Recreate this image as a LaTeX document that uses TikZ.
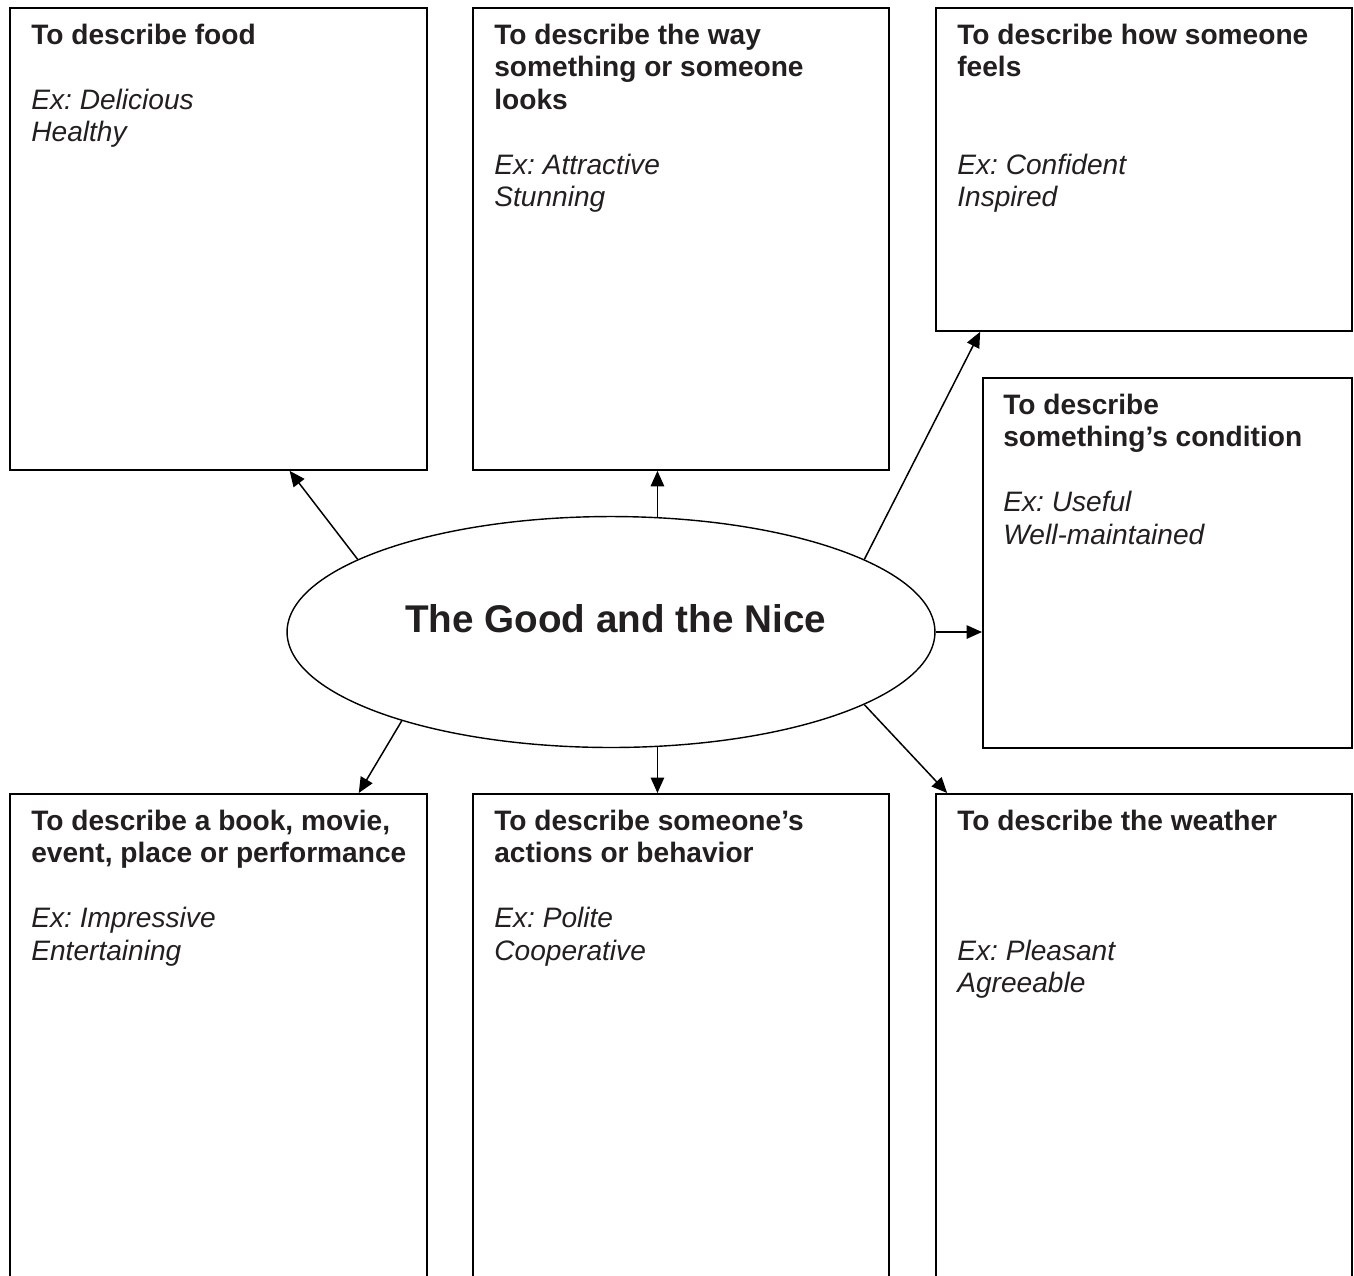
\documentclass[tikz,border=0pt]{standalone}
\usepackage{fontspec}
\setmainfont{Liberation Sans}
\usepackage{xcolor}
\usetikzlibrary{shapes.geometric,arrows.meta,calc}
\definecolor{inkgray}{RGB}{35,31,32}
\frenchspacing

\begin{document}
\begin{tikzpicture}[
    x=0.02cm, y=-0.02cm,
    >={Triangle[length=3.1mm,width=2.7mm]},
    box/.style={
        draw=black,
        line width=1.1pt,
        anchor=north west,
        inner sep=0pt
    },
    txt/.style={
        anchor=north west,
        inner sep=0pt,
        align=left,
        text=inkgray,
        font=\fontsize{16}{18.5}\selectfont
    },
    hub/.style={
        draw=black,
        ellipse,
        line width=0.8pt,
        minimum width=12.96cm,
        minimum height=4.62cm,
        inner sep=0pt
    },
    title/.style={
        anchor=base,
        inner sep=0pt,
        text=inkgray,
        font=\fontsize{22}{26}\selectfont\bfseries
    },
    arr/.style={->, line width=0.85pt}
]
\clip (0,0) rectangle (1354,1275);

% top row
\node[box, minimum width=8.34cm, minimum height=9.24cm] (food) at (9,7) {};
\node[txt] (foodtxt) at (31,23.5)
{\textbf{To describe food}\\[18.5pt]
\textit{Ex: Delicious}\\
\textit{Healthy}};

\node[box, minimum width=8.32cm, minimum height=9.24cm] (looks) at (472,7) {};
\node[txt] (lookstxt) at (494,23.5)
{\textbf{To describe the way}\\
\textbf{something or someone}\\
\textbf{looks}\\[18.5pt]
\textit{Ex: Attractive}\\
\textit{Stunning}};

\node[box, minimum width=8.32cm, minimum height=6.46cm] (feels) at (935,7) {};
\node[txt] (feelstxt) at (957,23.5)
{\textbf{To describe how someone}\\
\textbf{feels}\\[37pt]
\textit{Ex: Confident}\\
\textit{Inspired}};

% right side
\node[box, minimum width=7.38cm, minimum height=7.40cm] (cond) at (982,377) {};
\node[txt] (condtxt) at (1003,393.5)
{\textbf{To describe}\\
\textbf{something’s condition}\\[18.5pt]
\textit{Ex: Useful}\\
\textit{Well-maintained}};

% centre
\node[hub] (hub) at (611,632) {};
\node[title] (ttl) at (615.5,632) {The Good and the Nice};

% bottom row
\node[box, minimum width=8.34cm, minimum height=10.6cm] (book) at (9,793) {};
\node[txt] (booktxt) at (31,809.5)
{\textbf{To describe a book, movie,}\\
\textbf{event, place or performance}\\[18.5pt]
\textit{Ex: Impressive}\\
\textit{Entertaining}};

\node[box, minimum width=8.32cm, minimum height=10.6cm] (actions) at (472,793) {};
\node[txt] (actionstxt) at (494,809.5)
{\textbf{To describe someone’s}\\
\textbf{actions or behavior}\\[18.5pt]
\textit{Ex: Polite}\\
\textit{Cooperative}};

\node[box, minimum width=8.32cm, minimum height=10.6cm] (weather) at (935,793) {};
\node[txt] (weathertxt) at (957,809.5)
{\textbf{To describe the weather}\\[55.5pt]
\textit{Ex: Pleasant}\\
\textit{Agreeable}};

% arrows out of the ellipse
\draw[arr] (hub.164) -- ($(food.south west)!0.67!(food.south east)$);
\draw[arr] (hub.68) -- (hub.68 |- looks.south);
\draw[arr] (hub.16) -- ($(feels.south west)!0.108!(feels.south east)$);
\draw[arr] (hub.east) -- (hub.east -| cond.west);
\draw[arr] (hub.203) -- ($(book.north west)!0.835!(book.north east)$);
\draw[arr] (hub.292) -- (hub.292 |- actions.north);
\draw[arr] (hub.344) -- ($(weather.north west)!0.029!(weather.north east)$);

\end{tikzpicture}
\end{document}
